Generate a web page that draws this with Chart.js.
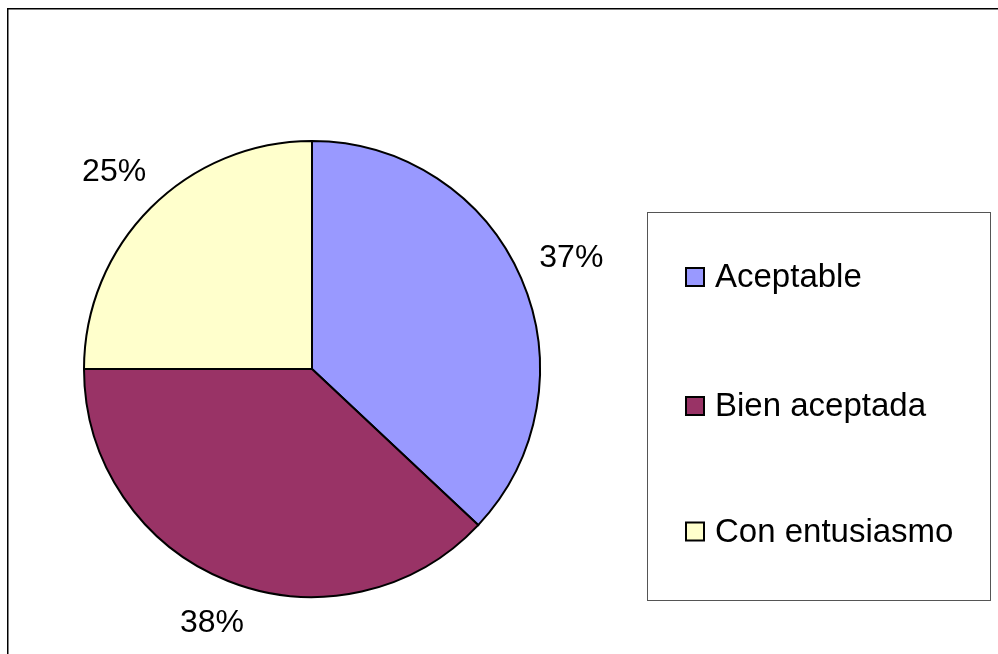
<!DOCTYPE html>
<html>
<head>
<meta charset="utf-8">
<script src="https://cdn.jsdelivr.net/npm/chart.js@4"></script>
<style>
  html, body { margin: 0; padding: 0; background: #ffffff; }
  #wrap { width: 998px; height: 654px; position: relative; }
</style>
</head>
<body>
<div id="wrap"><canvas id="c" width="998" height="654"></canvas></div>
<script>
const categories = ['Aceptable', 'Bien aceptada', 'Con entusiasmo'];
const values = [37, 38, 25];
const sliceColors = ['#9999FF', '#993366', '#FFFFCC'];

const FONT = '"Liberation Sans", Arial, sans-serif';

const framePlugin = {
  id: 'frame',
  beforeDraw(chart) {
    const ctx = chart.ctx;
    ctx.save();
    ctx.fillStyle = '#ffffff';
    ctx.fillRect(0, 0, chart.width, chart.height);
    ctx.strokeStyle = '#000000';
    ctx.lineWidth = 1.5;
    ctx.beginPath();
    ctx.moveTo(7.75, chart.height + 5);
    ctx.lineTo(7.75, 8.75);
    ctx.lineTo(chart.width + 5, 8.75);
    ctx.stroke();
    ctx.restore();
  }
};

const labelPlugin = {
  id: 'outLabels',
  afterDatasetsDraw(chart) {
    const ctx = chart.ctx;
    const meta = chart.getDatasetMeta(0);
    const total = values.reduce((a, b) => a + b, 0);
    ctx.save();
    ctx.font = '32px ' + FONT;
    ctx.fillStyle = '#000000';
    ctx.textAlign = 'center';
    ctx.textBaseline = 'middle';
    meta.data.forEach((arc, i) => {
      const p = arc.getProps(['x', 'y', 'startAngle', 'endAngle', 'outerRadius'], true);
      const mid = (p.startAngle + p.endAngle) / 2;
      const pct = Math.round(values[i] / total * 100) + '%';
      const w = ctx.measureText(pct).width / 2;
      const h = 13;
      const cx = Math.cos(mid), cy = Math.sin(mid);
      const support = Math.abs(cx) * w + Math.abs(cy) * h;
      const d = p.outerRadius + 20 + support;
      ctx.fillText(pct, p.x + cx * d, p.y + cy * d + 1);
    });
    ctx.restore();
  }
};

const legendPlugin = {
  id: 'boxLegend',
  afterDraw(chart) {
    const ctx = chart.ctx;
    ctx.save();
    ctx.strokeStyle = '#555555';
    ctx.lineWidth = 1;
    ctx.strokeRect(647.5, 212.5, 343, 388);
    const rowY = [277, 406, 531.5];
    ctx.font = '33px ' + FONT;
    ctx.textBaseline = 'middle';
    ctx.textAlign = 'left';
    categories.forEach((name, i) => {
      const y = rowY[i];
      ctx.fillStyle = sliceColors[i];
      ctx.fillRect(686, y - 9, 18, 18);
      ctx.strokeStyle = '#000000';
      ctx.lineWidth = 2;
      ctx.strokeRect(686, y - 9, 18, 18);
      ctx.fillStyle = '#000000';
      ctx.fillText(name, 715, y + 1);
    });
    ctx.restore();
  }
};

new Chart(document.getElementById('c'), {
  type: 'pie',
  data: {
    labels: categories,
    datasets: [{
      data: values,
      backgroundColor: sliceColors,
      borderColor: '#000000',
      borderWidth: 2,
      borderJoinStyle: 'miter'
    }]
  },
  options: {
    responsive: false,
    animation: false,
    layout: { padding: { left: 83, right: 457, top: 140, bottom: 56 } },
    plugins: {
      legend: { display: false },
      tooltip: { enabled: false },
      title: { display: false }
    }
  },
  plugins: [framePlugin, labelPlugin, legendPlugin]
});
</script>
</body>
</html>
